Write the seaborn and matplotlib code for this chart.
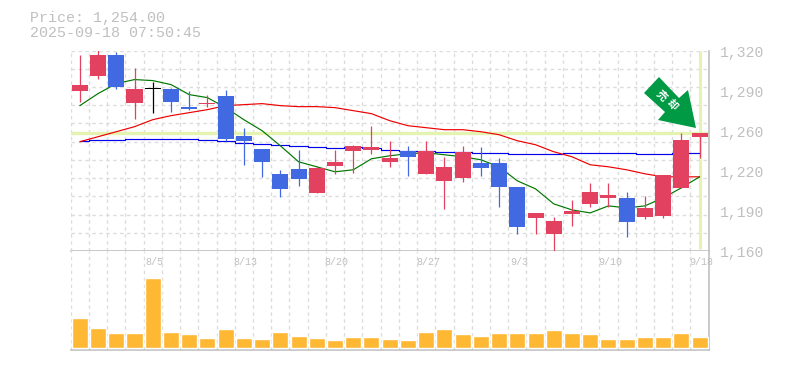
import numpy as np
import pandas as pd
import matplotlib
matplotlib.use("Agg")
import matplotlib.pyplot as plt
import seaborn as sns
from matplotlib.patches import Polygon

# prices
opens = [1288, 1300, 1316.8, 1278.4, 1289.6, 1289.6, 1275.2, 1277.6, 1284, 1252, 1241.6, 1221.6, 1225.6, 1206.4, 1228,
         1240, 1240.8, 1231.2, 1240, 1221.6, 1216, 1218.4, 1230.4, 1230.4, 1211.2, 1186.4, 1173.6, 1189.6, 1197.6, 1202.4,
         1202.4, 1187.2, 1188, 1210.4, 1251.2]
closes = [1292.8, 1316.8, 1291.2, 1289.6, 1289.6, 1279.2, 1273.6, 1278.4, 1249.6, 1248, 1231.2, 1209.6, 1217.6, 1226.4, 1231.2,
          1244, 1243.2, 1234.4, 1235.2, 1240, 1227.2, 1239.2, 1226.4, 1211.2, 1179.2, 1190.4, 1184, 1192, 1207.2, 1204.8,
          1183.2, 1194.4, 1220.8, 1248.8, 1254]
highs = [1316.8, 1320.8, 1319.2, 1306.4, 1295.2, 1290.4, 1288, 1284.8, 1288.8, 1258.4, 1241.6, 1224.8, 1240.8, 1228, 1240.8,
         1244.8, 1260, 1248, 1244, 1248, 1235.2, 1244, 1243.2, 1234.4, 1211.2, 1190.4, 1187.2, 1200.8, 1214.4, 1214.4,
         1207.2, 1204, 1220.8, 1254.4, 1254]
lows = [1279.2, 1297.6, 1289.6, 1265.6, 1270.4, 1271.2, 1272.8, 1275.2, 1248, 1228.8, 1219.2, 1203.2, 1212, 1206.4, 1221.6,
        1222.4, 1237.6, 1227.2, 1220, 1221.6, 1193.6, 1215.2, 1220, 1195.2, 1173.6, 1173.6, 1160, 1180, 1195.2, 1195.2,
        1171.2, 1185.6, 1186.4, 1210.4, 1234.4]
ma_short = [1276, 1285.6, 1293.6, 1296.8, 1296, 1292.8, 1284.8, 1282.4, 1274.4, 1264.8, 1256, 1244, 1231.2, 1227.2, 1223.2,
            1224.8, 1233.6, 1236, 1237.6, 1238.4, 1236.8, 1235.2, 1232.8, 1227.2, 1216, 1209.6, 1197.6, 1192.8, 1190.4, 1196,
            1194.4, 1196, 1202.4, 1210.4, 1219.2]
ma_mid = [1247.2, 1251.2, 1255.2, 1259.2, 1264.8, 1268, 1270.4, 1272.8, 1276, 1276.8, 1277.6, 1276, 1275.2, 1275.2, 1274.4,
          1272, 1269.6, 1264, 1260, 1258.4, 1256.8, 1256.8, 1255.2, 1252.8, 1248, 1244.8, 1239.2, 1235.2, 1228.8, 1227.2,
          1224.8, 1221.6, 1219.2, 1219.2, 1219.2]
ma_long = [1248, 1248.8, 1248.8, 1249.6, 1249.6, 1249.6, 1249.6, 1248.8, 1248, 1246.4, 1245.6, 1244.8, 1244, 1243.2, 1242.4,
           1243.2, 1242.4, 1240.8, 1240, 1240, 1239.2, 1239.2, 1238.4, 1238.4, 1237.6, 1237.6, 1237.6, 1238.4, 1238.4, 1238.4,
           1238.4, 1237.6, 1237.6, 1238.4, 1238.4]
volumes = [31, 20, 15, 15, 71, 16, 14, 10, 19, 10, 9, 16, 12, 10, 8, 11, 11, 9,
           8, 16, 19, 14, 12, 15, 15, 15, 18, 15, 14, 9, 9, 11, 11, 15, 11]
date_labels = {4: "8/5", 9: "8/13", 14: "8/20", 19: "8/27", 24: "9/3", 29: "9/10", 34: "9/18"}
price_ticks = [1320, 1288, 1256, 1224, 1192, 1160]
price_labels = ["1,320", "1,290", "1,260", "1,220", "1,190", "1,160"]
last_price = 1254

UP = "#e2425f"
DOWN = "#4169e1"
GRID = "#dcdcdc"
FRAME = "#c0c0c0"
HILITE = "#e4f3b0"
W, H = 785, 370

sns.set_style("white")
plt.rcParams["font.family"] = ["Liberation Mono", "DejaVu Sans Mono"]

fig = plt.figure(figsize=(W / 100, H / 100), dpi=100)
ax = fig.add_axes([70.7 / W, 1 - 251 / H, 638 / W, 200.5 / H])
ax2 = fig.add_axes([70.7 / W, 1 - 350 / H, 638 / W, 99 / H])

n = len(closes)
df = pd.DataFrame({"i": np.arange(n), "vol": volumes, "short": ma_short, "mid": ma_mid, "long": ma_long})

# price pane
ax.set_xlim(-0.5, n - 0.5)
ax.set_ylim(1160, 1320)
ax.set_xticks(np.arange(n + 1) - 0.5)
ax.set_yticks(np.linspace(1160, 1320, 12))
ax.tick_params(length=0, labelbottom=False, labelleft=False)
ax.grid(True, color=GRID, ls=(0, (2.5, 2.5)), lw=1)
ax.set_axisbelow(True)

ax.axhline(last_price, color=HILITE, lw=2.4, zorder=1)
ax.plot([n - 1, n - 1], [1161.5, 1320], color=HILITE, lw=2.2, zorder=1, solid_capstyle="butt")

sns.lineplot(data=df, x="i", y="long", color="#0000ee", lw=0.85, ax=ax, zorder=2, drawstyle="steps-mid")
sns.lineplot(data=df, x="i", y="mid", color="#ee0000", lw=0.85, ax=ax, zorder=2)
sns.lineplot(data=df, x="i", y="short", color="#007700", lw=0.85, ax=ax, zorder=2)
ax.set_xlabel("")
ax.set_ylabel("")

for i in range(n):
    c = UP if closes[i] > opens[i] else DOWN
    if abs(closes[i] - opens[i]) < 0.1:
        c = "black"
    ax.vlines(i, lows[i], highs[i], color=c, lw=0.9, zorder=3)
    low = min(opens[i], closes[i])
    ht = max(abs(closes[i] - opens[i]), 0.8)
    ax.bar(i, ht, bottom=low, width=0.88, color=c, lw=0, zorder=3)

for s in ax.spines.values():
    s.set_visible(False)
ax.spines["bottom"].set_visible(True)
ax.spines["bottom"].set_color(FRAME)
ax.spines["bottom"].set_linewidth(1.2)
ax.spines["right"].set_visible(True)
ax.spines["right"].set_color(FRAME)
ax.spines["right"].set_linewidth(1.2)

# volume pane
sns.barplot(data=df, x="i", y="vol", color="#ffb833", saturation=1, width=0.88, native_scale=True, ax=ax2, zorder=3)
ax2.set_xlim(-0.5, n - 0.5)
ax2.set_ylim(-2, 99)
ax2.set_xticks(np.arange(n + 1) - 0.5)
ax2.set_yticks([])
ax2.tick_params(length=0, labelbottom=False, labelleft=False)
ax2.grid(True, axis="x", color=GRID, ls=(0, (2.5, 2.5)), lw=1)
ax2.set_axisbelow(True)
ax2.set_xlabel("")
ax2.set_ylabel("")
for s in ax2.spines.values():
    s.set_visible(False)
for name in ["bottom", "right"]:
    ax2.spines[name].set_visible(True)
    ax2.spines[name].set_color(FRAME)
    ax2.spines[name].set_linewidth(1.2)

# date labels sit at the top of the volume pane
for i, lab in date_labels.items():
    ax2.text(i + 0.1, 1 - 11 / 99, lab, transform=ax2.get_xaxis_transform(), ha="center", va="center",
             fontsize=7.2, color="#c0c0c0", zorder=5)

# price labels, drawn 2px under their true level
for v, lab in zip(price_ticks, price_labels):
    ax.annotate(lab, (1, v), xycoords=ax.get_yaxis_transform(), xytext=(8, -1.5), textcoords="offset points",
                ha="left", va="center", fontsize=10.6, color="#c0c0c0", annotation_clip=False)

fig.text(30 / W, 1 - 18 / H, "Price: 1,254.00", fontsize=10.8, color="#c0c0c0", va="center")
fig.text(30 / W, 1 - 33 / H, "2025-09-18 07:50:45", fontsize=10.8, color="#c0c0c0", va="center")

# signal arrow, in figure pixels
arrow_px = [(659, 77), (644, 93), (665, 112), (658, 120), (696, 128), (688, 90), (679, 98)]
fig.add_artist(Polygon([(x / W, 1 - y / H) for x, y in arrow_px], closed=True, transform=fig.transFigure,
                       facecolor="#009944", edgecolor="none", zorder=6))
fig.text(661.5 / W, 1 - 95.5 / H, "売", fontsize=7.5, color="white", rotation=-45, ha="center", va="center",
         family=["Noto Sans CJK JP"], fontweight="bold", zorder=7)
fig.text(672 / W, 1 - 105 / H, "却", fontsize=7.5, color="white", rotation=-45, ha="center", va="center",
         family=["Noto Sans CJK JP"], fontweight="bold", zorder=7)

fig.savefig("out.png", dpi=100, facecolor="white")
